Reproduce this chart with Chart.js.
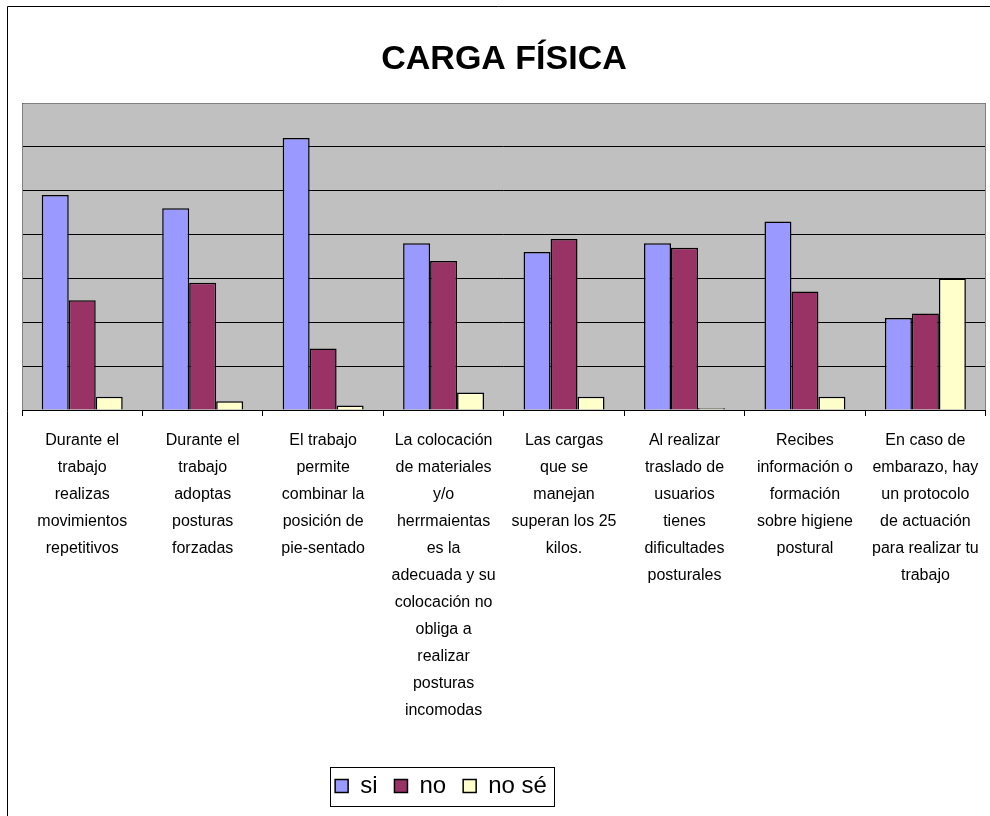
<!DOCTYPE html>
<html>
<head>
<meta charset="utf-8">
<script src="https://cdn.jsdelivr.net/npm/chart.js@4.4.1/dist/chart.umd.min.js"></script>
<style>
  html, body { margin: 0; padding: 0; background: #ffffff; }
  #wrap { position: absolute; left: 0; top: 0; width: 990px; height: 816px; }
</style>
</head>
<body>
<div id="wrap"><canvas id="c" width="990" height="816"></canvas></div>
<script>
const categories = [
  ["Durante el", "trabajo", "realizas", "movimientos", "repetitivos"],
  ["Durante el", "trabajo", "adoptas", "posturas", "forzadas"],
  ["El trabajo", "permite", "combinar la", "posición de", "pie-sentado"],
  ["La colocación", "de materiales", "y/o", "herrmaientas", "es la", "adecuada y su", "colocación no", "obliga a", "realizar", "posturas", "incomodas"],
  ["Las cargas", "que se", "manejan", "superan los 25", "kilos."],
  ["Al realizar", "traslado de", "usuarios", "tienes", "dificultades", "posturales"],
  ["Recibes", "información o", "formación", "sobre higiene", "postural"],
  ["En caso de", "embarazo, hay", "un protocolo", "de actuación", "para realizar tu", "trabajo"]
];
const seriesNames = ["si", "no", "no sé"];
const siValues   = [49, 46, 62, 38, 36, 38, 43, 21];
const noValues   = [25, 29, 14, 34, 39, 37, 27, 22];
const noseValues = [3, 2, 1, 4, 3, 0.4, 3, 30];
const yTicks = [0, 10, 20, 30, 40, 50, 60, 70];

const FONT = "'Liberation Sans', Arial, sans-serif";

const decor = {
  id: 'decor',
  beforeDraw(chart) {
    const {ctx, chartArea: a} = chart;
    ctx.save();
    ctx.fillStyle = '#C0C0C0';
    ctx.fillRect(a.left, a.top, a.right - a.left, a.bottom - a.top);
    ctx.restore();
  },
  beforeDatasetsDraw(chart) {
    const {ctx, chartArea: a} = chart;
    ctx.save();
    ctx.strokeStyle = '#808080';
    ctx.lineWidth = 1;
    ctx.beginPath();
    ctx.moveTo(Math.round(a.left) + 0.5, Math.round(a.bottom));
    ctx.lineTo(Math.round(a.left) + 0.5, Math.round(a.top) + 0.5);
    ctx.lineTo(Math.round(a.right) - 0.5, Math.round(a.top) + 0.5);
    ctx.lineTo(Math.round(a.right) - 0.5, Math.round(a.bottom));
    ctx.stroke();
    ctx.restore();
  },
  afterDraw(chart) {
    const {ctx} = chart;
    ctx.save();
    ctx.strokeStyle = '#000000';
    ctx.lineWidth = 1;
    ctx.beginPath();
    ctx.moveTo(7.5, 816);
    ctx.lineTo(7.5, 6.5);
    ctx.lineTo(990, 6.5);
    ctx.stroke();
    const hb = chart.legend.legendHitBoxes;
    if (hb && hb.length) {
      const first = hb[0], last = hb[hb.length - 1];
      const cy = first.top + first.height / 2;
      const l = Math.round(first.left) - 4.5;
      const r = Math.round(last.left + last.width) + 7.5;
      const t = Math.round(cy - 19) + 0.5;
      const b = Math.round(cy + 20) + 0.5;
      ctx.strokeRect(l, t, r - l, b - t);
    }
    ctx.restore();
  },
  afterLayout(chart) {
    const lg = chart.legend;
    if (lg) { lg.left -= 63; lg.right -= 63; }
  }
};

new Chart(document.getElementById('c'), {
  type: 'bar',
  data: {
    labels: categories,
    datasets: [
      { label: seriesNames[0], data: siValues,   backgroundColor: '#9999FF', borderColor: '#000000', borderWidth: 1.5 },
      { label: seriesNames[1], data: noValues,   backgroundColor: '#993366', borderColor: '#000000', borderWidth: 1.5 },
      { label: seriesNames[2], data: noseValues, backgroundColor: '#FFFFCC', borderColor: '#000000', borderWidth: 1.5 }
    ]
  },
  options: {
    responsive: false,
    animation: false,
    devicePixelRatio: 1,
    datasets: { bar: { categoryPercentage: 0.672, barPercentage: 1.0 } },
    layout: { padding: { left: 22, right: 4, top: 0, bottom: 8 } },
    plugins: {
      title: {
        display: true,
        text: 'CARGA FÍSICA',
        color: '#000000',
        font: { family: FONT, size: 34, weight: 'bold', lineHeight: 1 },
        padding: { top: 43, bottom: 26 }
      },
      legend: {
        display: true,
        position: 'bottom',
        labels: {
          color: '#000000',
          font: { family: FONT, size: 24 },
          boxWidth: 13,
          boxHeight: 13,
          padding: 17,
          useBorderRadius: false
        }
      },
      tooltip: { enabled: false }
    },
    scales: {
      x: {
        offset: true,
        grid: { display: true, offset: true, drawOnChartArea: false, drawTicks: true, tickLength: 6, color: '#000000' },
        border: { display: true, color: '#000000', width: 1 },
        ticks: {
          autoSkip: false, maxRotation: 0, minRotation: 0,
          color: '#000000',
          font: { family: FONT, size: 16, lineHeight: 27 / 16 },
          padding: 11
        },
        afterFit(scale) { scale.height += 22; }
      },
      y: {
        min: 0, max: 70,
        afterBuildTicks(scale) { scale.ticks = yTicks.map(v => ({ value: v })); },
        grid: { display: true, drawTicks: false, color: '#000000', lineWidth: 1 },
        border: { display: false },
        ticks: { display: false }
      }
    }
  },
  plugins: [decor]
});
</script>
</body>
</html>
